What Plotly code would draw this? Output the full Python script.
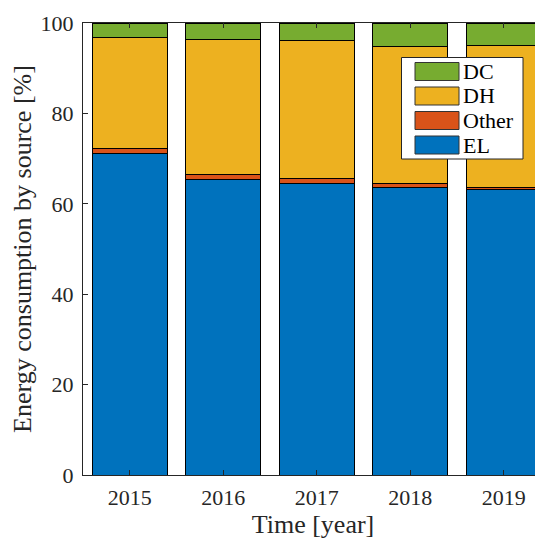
import plotly.graph_objects as go

years = [2015, 2016, 2017, 2018, 2019]
el = [71.2, 65.3, 64.4, 63.5, 63.1]
other = [1.1, 1.1, 1.1, 1.0, 0.6]
dh = [24.5, 30.0, 30.7, 30.2, 31.4]
dc = [3.2, 3.6, 3.8, 5.3, 4.9]

series = [('EL', el, '#0072BD'), ('Other', other, '#D95319'),
          ('DH', dh, '#EDB120'), ('DC', dc, '#77AC30')]

font = 'Liberation Serif'
axcol = '#262626'

# the page body adds an 8px offset, so the figure is drawn 8px smaller
OFF = 8
FW, FH = 543 - OFF, 539 - OFF
L, T, W, H = 83 - OFF, 23 - OFF, 460, 452


def px(x):
    return (x - OFF - L) / W


def py(y):
    return 1 - (y - OFF - T) / H


fig = go.Figure()
for name, vals, col in series:
    fig.add_trace(go.Bar(
        x=years, y=vals, name=name, width=0.8, showlegend=False,
        marker=dict(color=col, line=dict(color='black', width=1)),
    ))

# legend drawn by hand so the swatches look like MATLAB's
shapes = [dict(type='rect', xref='paper', yref='paper',
               x0=px(401.5), x1=px(523), y0=py(57.5), y1=py(159),
               fillcolor='white', line=dict(color=axcol, width=1))]
annotations = []
for i, (name, vals, col) in enumerate(reversed(series)):
    top = 62.5 + i * 24.5
    shapes.append(dict(type='rect', xref='paper', yref='paper',
                       x0=px(415), x1=px(459), y0=py(top), y1=py(top + 18),
                       fillcolor=col, line=dict(color='#333333', width=1)))
    annotations.append(dict(text=name, xref='paper', yref='paper',
                            x=px(461), y=py(top + 9), xanchor='left', yanchor='middle',
                            showarrow=False, font=dict(family=font, size=22, color='black')))

fig.update_layout(
    barmode='stack',
    width=FW, height=FH,
    margin=dict(l=L, r=FW - L - W, t=T, b=FH - T - H),
    paper_bgcolor='white', plot_bgcolor='white',
    font=dict(family=font, size=22, color=axcol),
    showlegend=False,
    shapes=shapes, annotations=annotations,
)
fig.update_xaxes(
    range=[2014.5, 2014.5 + W / 93.5], tickvals=years, ticktext=[str(y) for y in years],
    ticks='inside', ticklen=5, tickcolor=axcol, mirror='allticks', automargin=False,
    showline=True, linecolor=axcol, linewidth=1, showgrid=False, ticklabelstandoff=3,
    title=dict(text='Time [year]', standoff=0),
)
fig.update_yaxes(
    range=[0, 100], tickvals=[0, 20, 40, 60, 80, 100], automargin=False,
    ticks='inside', ticklen=5, tickcolor=axcol, ticklabelstandoff=4,
    showline=True, linecolor=axcol, linewidth=1, showgrid=False, zeroline=False,
    title=dict(text='Energy consumption by source [%]', standoff=4),
)

fig.write_html('out.html')
